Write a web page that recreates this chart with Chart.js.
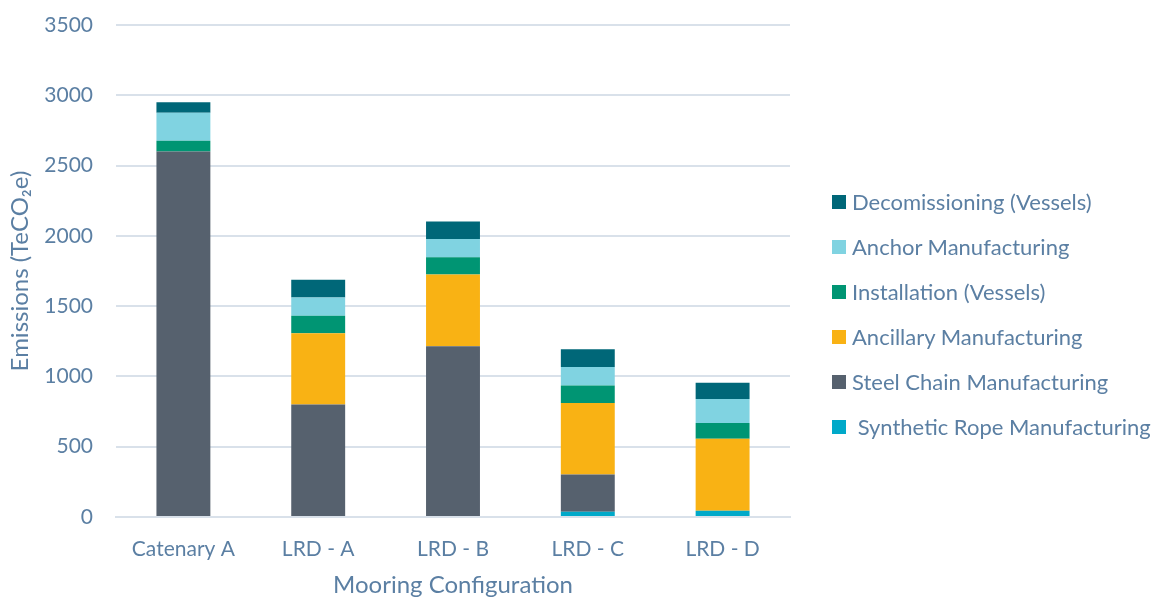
<!DOCTYPE html>
<html>
<head>
<meta charset="utf-8">
<script src="https://cdn.jsdelivr.net/npm/chart.js@4.4.1/dist/chart.umd.min.js"></script>
<style>
  html, body { margin: 0; padding: 0; background: #fff; }
  #wrap { position: relative; width: 1162px; height: 599px; }
  #legend { position: absolute; left: 832px; top: 190px; margin: 0; padding: 0; list-style: none;
            font-family: Lato, 'Open Sans', sans-serif; font-size: 22px; color: #5b7fa3; }
  #legend li { height: 45px; line-height: 24px; display: flex; align-items: flex-start; white-space: pre; }
  #legend span.box { display: inline-block; width: 14px; height: 14px; margin: 5px 6px 0 0; }
</style>
</head>
<body>
<div id="wrap"><canvas id="chart"></canvas><ul id="legend"></ul></div>
<script>
const categories = ['Catenary A', 'LRD - A', 'LRD - B', 'LRD - C', 'LRD - D'];
const syntheticRope = [0, 0, 0, 38, 45];
const steelChain = [2600, 800, 1214, 264, 0];
const ancillary = [0, 507, 511, 509, 511];
const installation = [76, 124, 122, 125, 112];
const anchor = [200, 130, 130, 131, 171];
const decommissioning = [75, 127, 126, 126, 116];
const yTicks = [0, 500, 1000, 1500, 2000, 2500, 3000, 3500];

const textColor = '#5b7fa3';
const font = "Lato, 'Open Sans', sans-serif";

const series = [
    { label: ' Synthetic Rope Manufacturing', data: syntheticRope, color: '#00a9c9' },
    { label: 'Steel Chain Manufacturing', data: steelChain, color: '#56616e' },
    { label: 'Ancillary Manufacturing', data: ancillary, color: '#f9b214' },
    { label: 'Installation (Vessels)', data: installation, color: '#009573' },
    { label: 'Anchor Manufacturing', data: anchor, color: '#80d3e1' },
    { label: 'Decomissioning (Vessels)', data: decommissioning, color: '#006778' }
];

// legend on the right, topmost series first
const legend = document.getElementById('legend');
series.slice().reverse().forEach(s => {
    const li = document.createElement('li');
    li.innerHTML = '<span class="box" style="background:' + s.color + '"></span>' + s.label;
    legend.appendChild(li);
});

new Chart(document.getElementById('chart'), {
    type: 'bar',
    data: {
        labels: categories,
        datasets: series.map(s => ({
            label: s.label,
            data: s.data,
            backgroundColor: s.color,
            borderWidth: 0,
            barPercentage: 0.4,
            categoryPercentage: 1
        }))
    },
    options: {
        responsive: true,
        maintainAspectRatio: false,
        animation: false,
        layout: { padding: { top: 25, right: 372, bottom: -1, left: 6 } },
        plugins: {
            legend: { display: false },
            tooltip: { enabled: false }
        },
        scales: {
            x: {
                stacked: true,
                grid: { display: false },
                border: { color: '#d9e1ea', width: 2 },
                ticks: { color: textColor, font: { family: font, size: 21 }, padding: 12 },
                title: { display: true, text: 'Mooring Configuration', color: textColor, font: { family: font, size: 24 }, padding: { top: -3, bottom: 0 } }
            },
            y: {
                stacked: true,
                min: 0,
                max: 3500,
                afterBuildTicks: axis => { axis.ticks = yTicks.map(v => ({ value: v })); },
                afterFit: axis => { axis.width = 110; axis.paddingTop = 0; axis.paddingBottom = 0; },
                grid: { color: '#d9e1ea', lineWidth: 2, drawTicks: false },
                border: { display: false },
                ticks: { color: textColor, font: { family: font, size: 21 }, padding: 23, callback: v => String(v) },
                title: { display: true, text: 'Emissions (TeCO₂e)', color: textColor, font: { family: font, size: 24 }, padding: { top: 0, bottom: 8 } }
            }
        }
    }
});
</script>
</body>
</html>
